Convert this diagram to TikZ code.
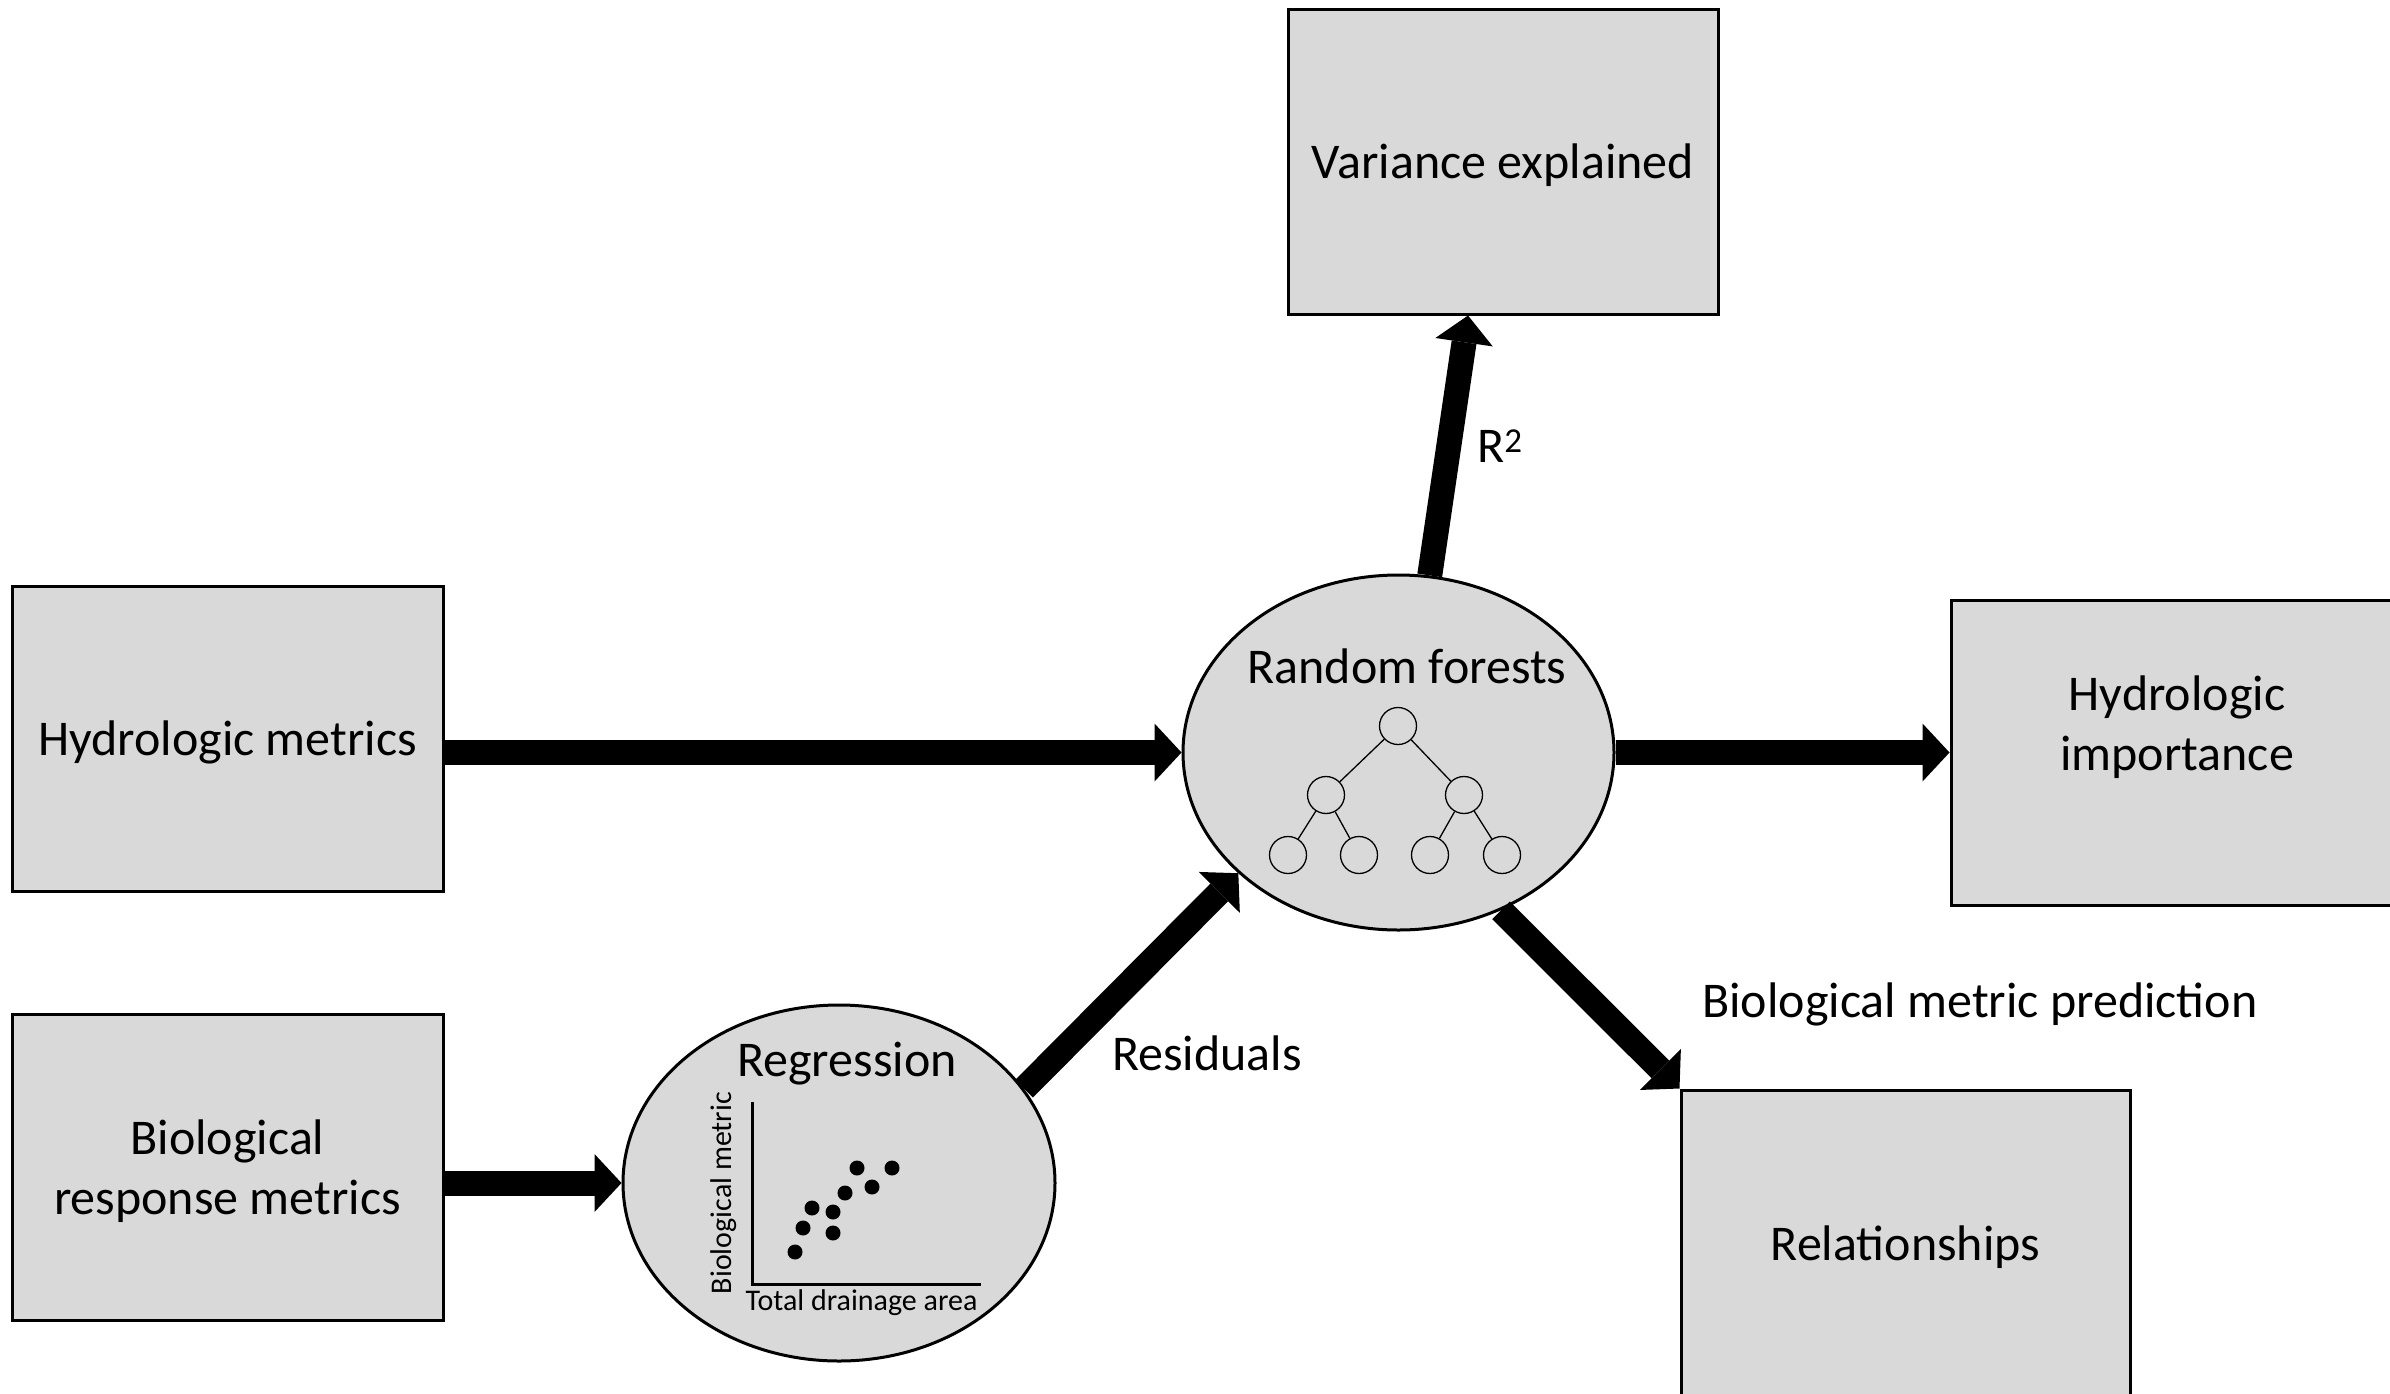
\documentclass[tikz,border=0pt]{standalone}
\usepackage{fontspec}
\setmainfont{Carlito}
\usetikzlibrary{shapes.geometric,arrows.meta,calc}
\definecolor{boxgray}{HTML}{D9D9D9}
\newcommand\mybigfont{\fontsize{50}{60}\selectfont}
\newcommand\mysmallfont{\fontsize{30}{36}\selectfont}
\begin{document}
\begin{tikzpicture}[x=1pt,y=-1pt,
  box/.style={draw=black,line width=3pt,fill=boxgray,rectangle,inner sep=0pt,align=center,font=\mybigfont,text depth=0pt},
  oval/.style={draw=black,line width=3pt,fill=boxgray,ellipse,inner sep=0pt,minimum width=431pt,minimum height=355pt},
  txt/.style={inner sep=0pt,font=\mybigfont,align=center},
  smalltxt/.style={inner sep=0pt,font=\mysmallfont},
  tnode/.style={draw=black,line width=1.3pt,circle,inner sep=0pt,minimum size=37pt},
  tedge/.style={line width=1.3pt},
  bigarrow/.style={line width=25pt,-{Triangle[length=27pt,width=58pt,line width=0pt]}},
  axis/.style={line width=3pt},
  dot/.style={fill=black}
]
\useasboundingbox (0,0) rectangle (2390,1393);

% boxes
\node[box,minimum width=431pt,minimum height=305pt] (hm) at (227.5,738.5) {Hydrologic metrics};
\node[box,minimum width=431pt,minimum height=306pt] (brm) at (227.5,1167) {Biological\\response metrics};
\node[box,minimum width=430pt,minimum height=305pt] (var) at (1503,161.5) {Variance explained};
\node[box,minimum width=452pt,minimum height=305pt] (hi) at (2177,752.5) {};
\node[txt] (hitext) at (2177,727) {Hydrologic\\importance};
\node[box,minimum width=449pt,minimum height=306pt] (rel) at (1905.5,1243) {Relationships};

% ellipses
\node[oval] (rf) at (1398.5,752.5) {};
\node[oval,minimum width=432pt,minimum height=356pt] (reg) at (839,1183) {};

% random forests contents
\node[txt,anchor=base] (rftext) at (1407,683) {Random forests};
\node[tnode] (t0) at (1398,726) {};
\node[tnode] (t1) at (1326,795) {};
\node[tnode] (t2) at (1464,795) {};
\node[tnode] (t3) at (1288,855) {};
\node[tnode] (t4) at (1359,855) {};
\node[tnode] (t5) at (1430,855) {};
\node[tnode] (t6) at (1502,855) {};
\draw[tedge] (t0) -- (t1);
\draw[tedge] (t0) -- (t2);
\draw[tedge] (t1) -- (t3);
\draw[tedge] (t1) -- (t4);
\draw[tedge] (t2) -- (t5);
\draw[tedge] (t2) -- (t6);

% regression contents
\node[txt,anchor=base] (regtext) at (847,1076) {Regression};
\draw[axis] (752,1102) -- (752,1284) -- (981,1284);
\node[smalltxt,rotate=90] (ylab) at (724,1193) {Biological metric};
\node[smalltxt,anchor=base] (xlab) at (861.5,1310) {Total drainage area};
\foreach \px/\py in {795/1252,803/1228,812/1208,833/1212,833/1233,845/1193,857/1168,872/1187,892/1168}
  \fill[dot] (\px,\py) circle[radius=7.5];

% arrows
\draw[bigarrow] (hm.east |- rf.west) -- (rf.west);
\draw[bigarrow] (brm.east |- reg.west) -- (reg.west);
\draw[bigarrow] (reg.27) -- (rf.217);
\draw[bigarrow] (rf.80) -- ([xshift=-35pt]var.south);
\draw[bigarrow] (rf.east) -- (hi.west |- rf.east);
\draw[bigarrow] (rf.303) -- (rel.north west);

% labels
\node[txt,anchor=base west] (r2) at (1477,462) {R\textsuperscript{2}};
\node[txt,anchor=base west] (resid) at (1112,1070) {Residuals};
\node[txt,anchor=base west] (bmp) at (1702,1017) {Biological metric prediction};
\end{tikzpicture}
\end{document}
